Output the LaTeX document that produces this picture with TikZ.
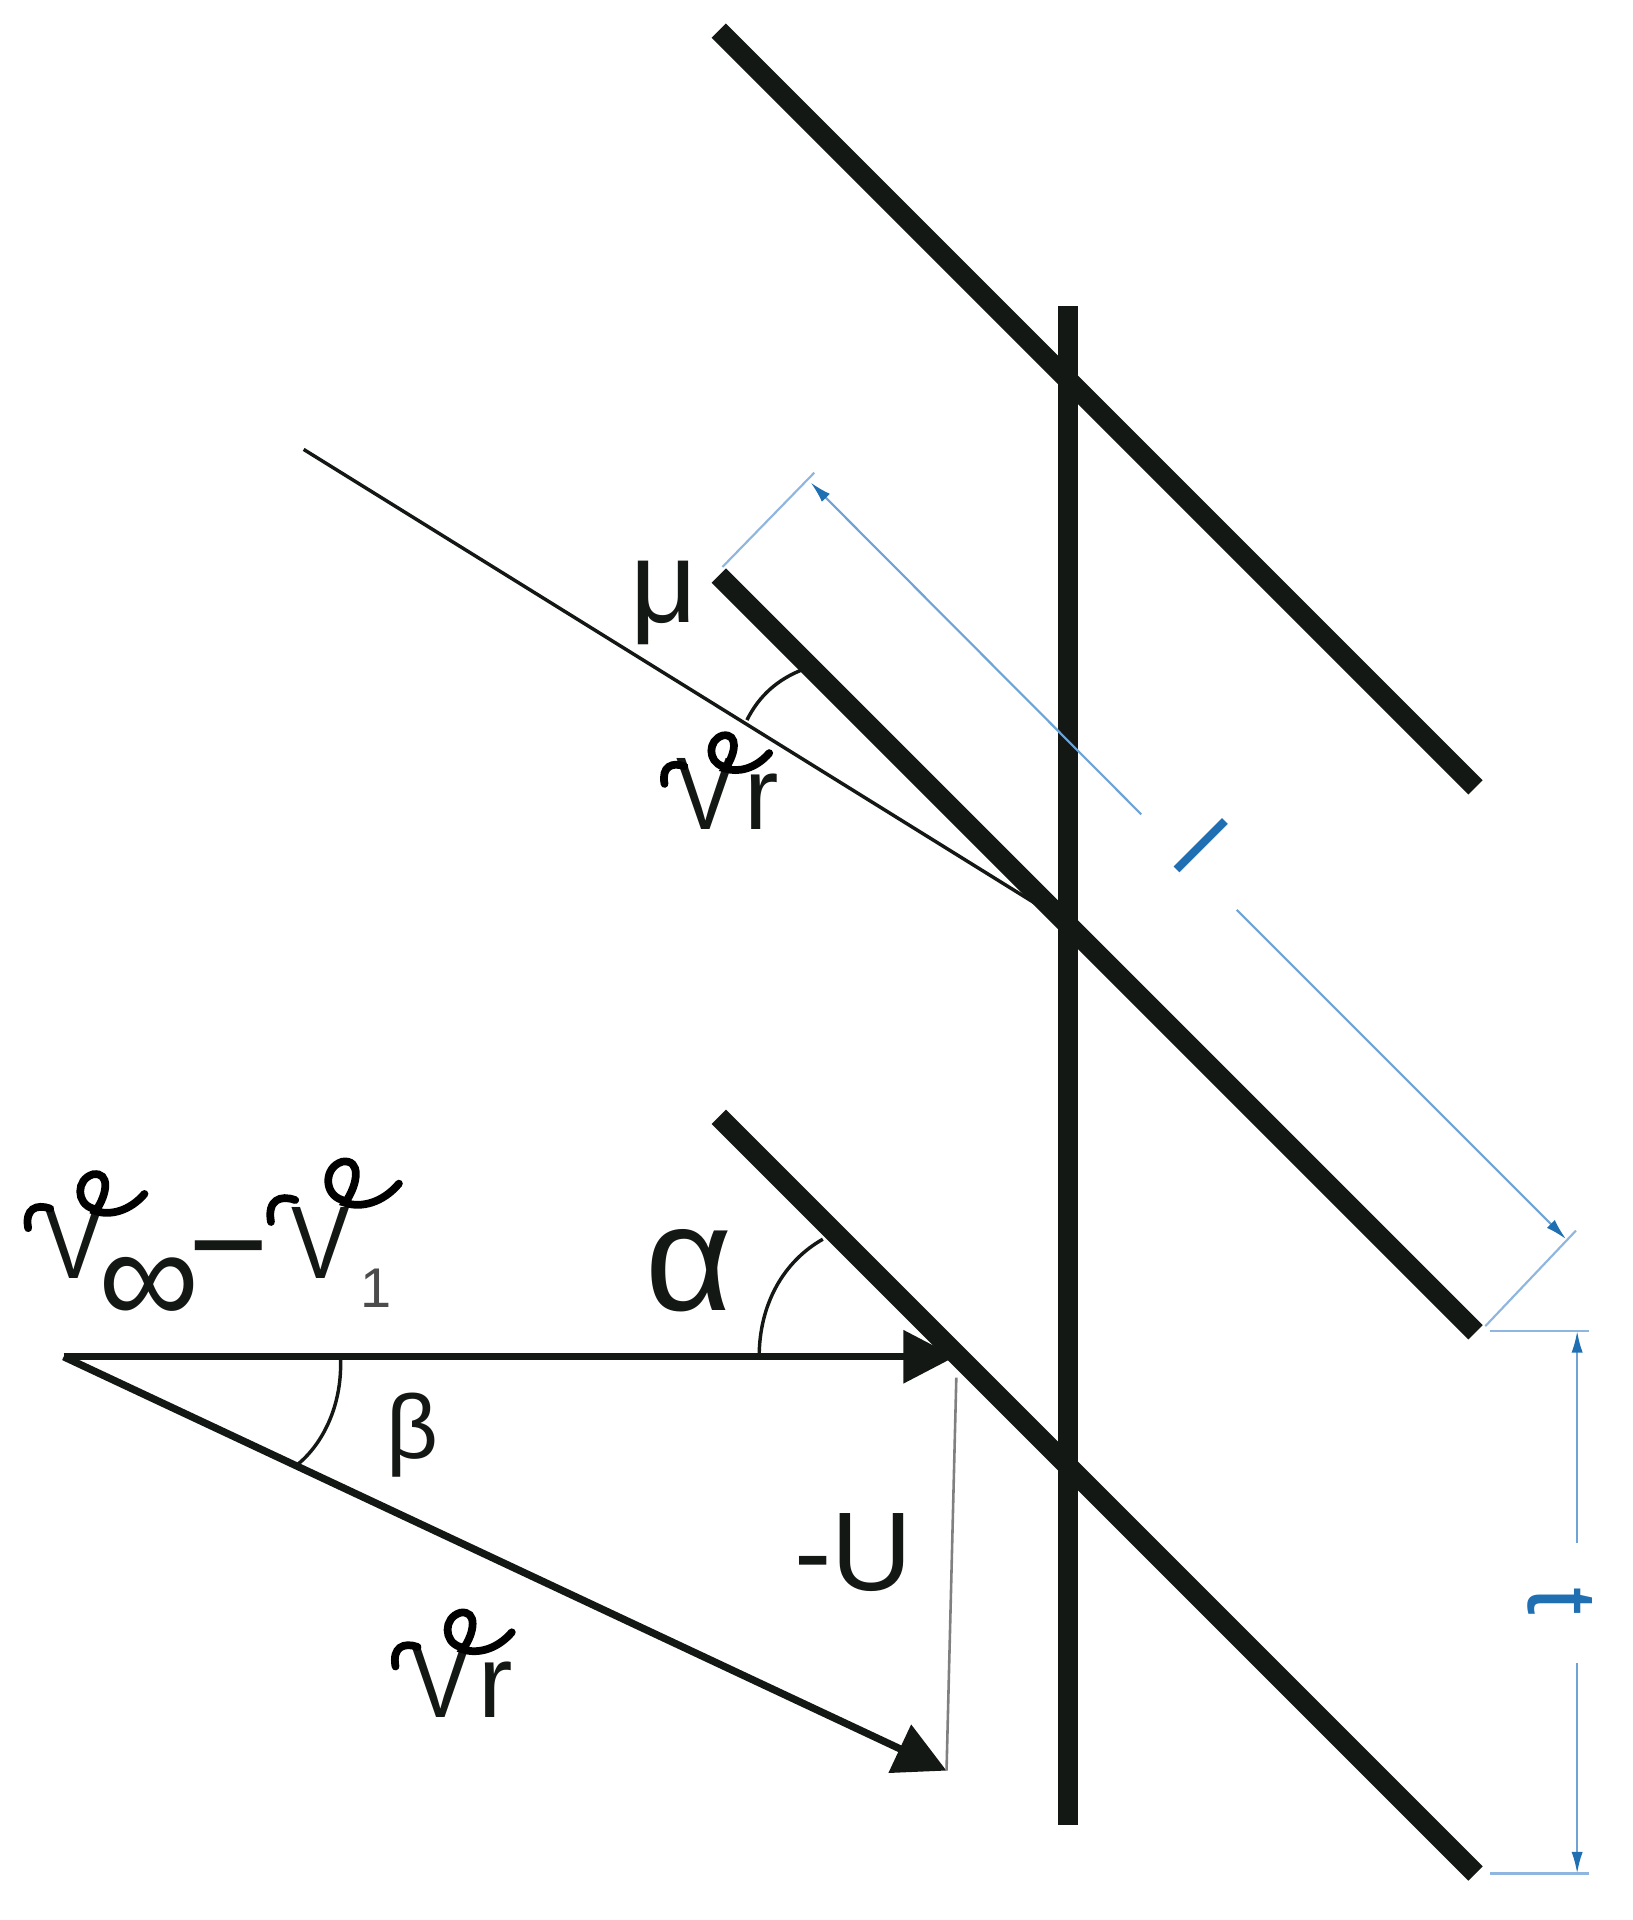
\documentclass[tikz,border=0pt]{standalone}
\usepackage{fontspec}
\setmainfont{Liberation Sans}
\usetikzlibrary{arrows.meta}
\definecolor{bladeblack}{HTML}{141815}
\definecolor{dimline}{HTML}{8FB6DE}
\definecolor{dimarrowcol}{HTML}{6FA3D6}
\definecolor{dimblue}{HTML}{1F6FB2}
\tikzset{
  blade/.style={line width=4.7pt, color=bladeblack},
  velarrow/.style={line width=1.7pt, color=bladeblack, -{Triangle[length=12pt,width=12pt]}},
  thinline/.style={line width=.8pt, color=bladeblack},
  anglearc/.style={line width=.8pt, color=bladeblack},
  dimext/.style={line width=.5pt, color=dimline},
  dimarrow/.style={line width=.5pt, color=dimarrowcol, -{Latex[length=5pt,width=2.6pt,color=dimblue]}},
  lab/.style={inner sep=0pt, color=bladeblack},
  hand/.pic={
    \draw[line width=1.8pt, line cap=round, color=black]
      (-37,-42) .. controls (-40,-58) and (-30,-62) .. (-19,-58);
    \draw[line width=1.8pt, line cap=round, color=black]
      (16,-58) .. controls (2,-62) and (2,-82) .. (16,-86)
      .. controls (30,-88) and (28,-70) .. (18,-56)
      .. controls (30,-52) and (46,-56) .. (58,-70);
  }
}
\begin{document}
\begin{tikzpicture}[x=.1mm, y=-.1mm]
\useasboundingbox (0,0) rectangle (1333,1568);
% blades and the axis
\foreach \n/\y in {a/25, b/470, c/912}{
  \coordinate (\n1) at (587,\y);
  \coordinate (\n2) at (1205,\y+618);
  \draw[blade] (\n1)--(\n2);
}
\coordinate (axis1) at (872,250);
\coordinate (axis2) at (872,1490);
\draw[blade] (axis1)--(axis2);
% flow line at the middle blade
\coordinate (flow1) at (248,367);
\coordinate (flow2) at (862,748);
\draw[thinline] (flow1)--(flow2);
\draw[anglearc] (610,588) .. controls (620,568) and (635,555) .. (655,547);
% velocity triangle
\coordinate (apex) at (52,1108);
\coordinate (tipA) at (780,1108);
\coordinate (tipB) at (773,1446);
\coordinate (topU) at (781,1125);
\draw[velarrow] (apex)--(tipA);
\draw[velarrow] (apex)--(tipB);
\draw[line width=.6pt, color=gray] (topU)--(tipB);
\draw[anglearc] (620,1108) .. controls (620,1065) and (640,1030) .. (672,1012);
\draw[anglearc] (278,1108) .. controls (280,1145) and (265,1178) .. (243,1196);
% dimension l
\coordinate (ext1) at (590,463);
\coordinate (ext2) at (665,386);
\coordinate (ext3) at (1213,1083);
\coordinate (ext4) at (1287,1005);
\coordinate (gap1) at (932,665);
\coordinate (gap2) at (1010,743);
\coordinate (end1) at (662,394);
\coordinate (end2) at (1279,1012);
\draw[dimext] (ext1)--(ext2);
\draw[dimext] (ext3)--(ext4);
\draw[dimarrow] (gap1)--(end1);
\draw[dimarrow] (gap2)--(end2);
% dimension t
\coordinate (top1) at (1217,1087);
\coordinate (top2) at (1298,1087);
\coordinate (bot1) at (1217,1530);
\coordinate (bot2) at (1298,1530);
\coordinate (mid1) at (1288,1260);
\coordinate (mid2) at (1288,1358);
\draw[dimext] (top1)--(top2);
\draw[dimext] (bot1)--(bot2);
\draw[dimarrow] (mid1)--(1288,1087);
\draw[dimarrow] (mid2)--(1288,1530);
% labels
\node[lab] (mu) at (542,492) {\fontsize{27}{27}\selectfont μ};
\node[lab] (alpha) at (563,1038) {\fontsize{35}{35}\selectfont α};
\node[lab] (beta) at (337,1172) {\fontsize{21}{21}\selectfont β};
\node[lab] (minusU) at (697,1268) {\fontsize{26}{26}\selectfont -U};
\node[lab, color=dimblue, rotate=-45] (ell) at (981,691) {\fontsize{22}{22}\selectfont l};
\node[lab, color=dimblue, rotate=-90] (tee) at (1274,1308) {\fontsize{23}{23}\selectfont t};
\node[lab, anchor=south, xscale=.85] (vr1) at (576,678) {\fontsize{24}{24}\selectfont V};
\node[lab, anchor=south west] (r1) at (607,678) {\fontsize{24}{24}\selectfont r};
\pic[scale=.9] at (576,678) {hand};
\node[lab, anchor=south, xscale=.85] (vr2) at (360,1403) {\fontsize{24}{24}\selectfont V};
\node[lab, anchor=south west] (r2) at (390,1403) {\fontsize{24}{24}\selectfont r};
\pic at (360,1403) {hand};
\node[lab, anchor=south, xscale=.85] (vinf) at (60,1045) {\fontsize{24}{24}\selectfont V};
\node[lab] (inf) at (122,1055) {\fontsize{33}{33}\selectfont ∞};
\pic at (60,1045) {hand};
\node[lab] (minus) at (187,1034) {\fontsize{32}{32}\selectfont −};
\node[lab, anchor=south, xscale=.85] (vone) at (262,1045) {\fontsize{24}{24}\selectfont V};
\node[lab, color=black!70] (one) at (307,1052) {\fontsize{13}{13}\selectfont 1};
\pic[xscale=1.1, yscale=1.12] at (262,1045) {hand};
\end{tikzpicture}
\end{document}
